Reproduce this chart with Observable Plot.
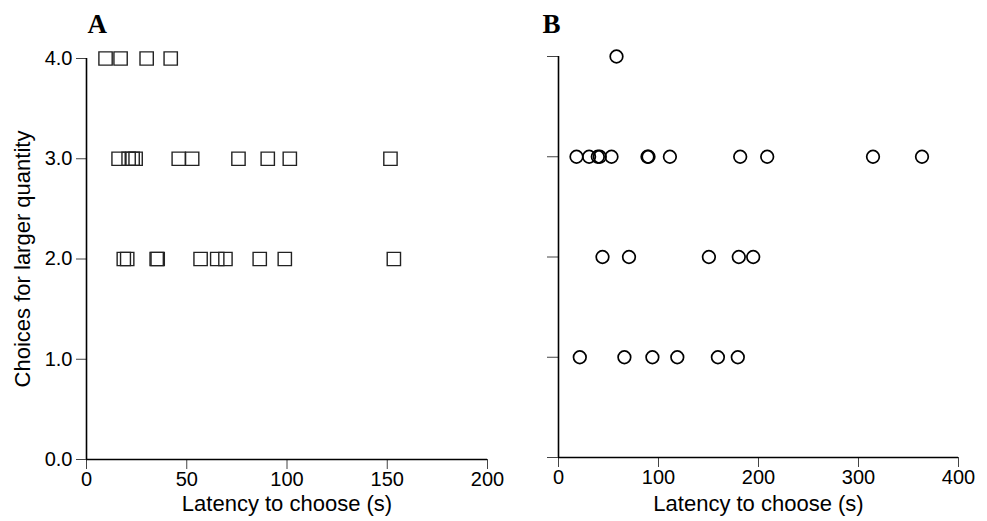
<!DOCTYPE html>
<html>
<head>
<meta charset="utf-8">
<script src="https://cdn.jsdelivr.net/npm/d3@7"></script>
<script src="https://cdn.jsdelivr.net/npm/@observablehq/plot@0.6"></script>
<style>
  html, body { margin: 0; padding: 0; background: white; }
  #wrap { position: relative; width: 987px; height: 521px; }
  #wrap svg { position: absolute; top: 0; }
</style>
</head>
<body>
<div id="wrap"></div>
<script>
// Panel A (squares)
const choicesA = [4, 4, 4, 4,
  3, 3, 3, 3, 3, 3, 3, 3, 3, 3,
  2, 2, 2, 2, 2, 2, 2, 2, 2, 2];
const latencyA = [9.5, 17, 30, 42,
  16, 21, 23, 24.5, 46, 52.7, 75.8, 90.4, 101.4, 151.6,
  18.6, 20.3, 35, 35.5, 56.9, 65.2, 69.3, 86.4, 98.9, 153.3];
// Panel B (circles)
const choicesB = [4,
  3, 3, 3, 3, 3, 3, 3, 3, 3, 3, 3, 3,
  2, 2, 2, 2, 2,
  1, 1, 1, 1, 1, 1];
const latencyB = [58,
  18, 30.6, 39.3, 41.3, 53, 89, 90, 111.4, 181.7, 208.7, 314.5, 363.5,
  44, 70.5, 150.4, 180.3, 194.7,
  21.3, 65.9, 93.9, 118.8, 159.4, 179.3];

const yTicks = [0, 1, 2, 3, 4];
const xTicksA = [0, 50, 100, 150, 200];
const xTicksB = [0, 100, 200, 300, 400];
const yLabel = "Choices for larger quantity";
const xLabel = "Latency to choose (s)";
const panelA = "A";
const panelB = "B";

const dataA = latencyA.map((x, i) => ({x, y: choicesA[i]}));
const dataB = latencyB.map((x, i) => ({x, y: choicesB[i]}));

const baseStyle = {
  fontFamily: "'Liberation Sans', Arial, sans-serif",
  fontSize: "20px",
  background: "transparent",
  overflow: "visible",
  color: "black"
};
const FS = 20;
const LFS = 22;

const plotA = Plot.plot({
  width: 510,
  height: 521,
  marginLeft: 86,
  marginRight: 23,
  marginTop: 58,
  marginBottom: 62,
  style: baseStyle,
  x: {domain: [0, 200]},
  y: {domain: [0, 4]},
  marks: [
    Plot.axisY({ticks: yTicks, tickFormat: d => d.toFixed(1), tickSize: 10, tickPadding: 4,
      stroke: "#444", fontSize: FS, label: null}),
    Plot.axisX({ticks: xTicksA, tickSize: 10, tickPadding: 2, stroke: "#444", fontSize: FS, label: null}),
    Plot.text([yLabel], {frameAnchor: "left", rotate: -90, lineAnchor: "middle", textAnchor: "middle",
      dx: -64, fontSize: LFS, fill: "black"}),
    Plot.text([xLabel], {frameAnchor: "bottom", lineAnchor: "middle", textAnchor: "middle",
      dy: 44, fontSize: LFS, fill: "black"}),
    Plot.ruleX([0], {y1: 0, y2: 4, stroke: "black", strokeWidth: 1.6}),
    Plot.ruleY([0], {x1: 0, x2: 200, stroke: "black", strokeWidth: 1.6}),
    Plot.dot(dataA, {x: "x", y: "y", symbol: "square", r: 7.5, stroke: "#222", strokeWidth: 1.4, fill: "none"}),
    Plot.text([panelA], {frameAnchor: "top-left", textAnchor: "start", lineAnchor: "bottom",
      dx: 1, dy: -26, fontFamily: "'Liberation Serif', 'Times New Roman', serif",
      fontWeight: "bold", fontSize: 27, fill: "black"})
  ]
});
plotA.style.left = "0px";

const plotB = Plot.plot({
  width: 487,
  height: 521,
  marginLeft: 58,
  marginRight: 29,
  marginTop: 56,
  marginBottom: 64,
  style: baseStyle,
  x: {domain: [0, 400]},
  y: {domain: [0, 4]},
  marks: [
    Plot.axisY({ticks: yTicks, tickFormat: () => "", tickSize: 11, stroke: "#444", label: null}),
    Plot.axisX({ticks: xTicksB, tickSize: 10, tickPadding: 2, stroke: "#444", fontSize: FS, label: null}),
    Plot.text([xLabel], {frameAnchor: "bottom", lineAnchor: "middle", textAnchor: "middle",
      dy: 46, fontSize: LFS, fill: "black"}),
    Plot.ruleX([0], {y1: 0, y2: 4, stroke: "black", strokeWidth: 1.6}),
    Plot.ruleY([0], {x1: 0, x2: 400, stroke: "black", strokeWidth: 1.6}),
    Plot.dot(dataB, {x: "x", y: "y", r: 6.3, stroke: "black", strokeWidth: 1.7, fill: "none"}),
    Plot.text([panelB], {frameAnchor: "top-left", textAnchor: "start", lineAnchor: "bottom",
      dx: -16, dy: -24, fontFamily: "'Liberation Serif', 'Times New Roman', serif",
      fontWeight: "bold", fontSize: 27, fill: "black"})
  ]
});
plotB.style.left = "500px";

const wrap = document.getElementById("wrap");
wrap.appendChild(plotA);
wrap.appendChild(plotB);
</script>
</body>
</html>
